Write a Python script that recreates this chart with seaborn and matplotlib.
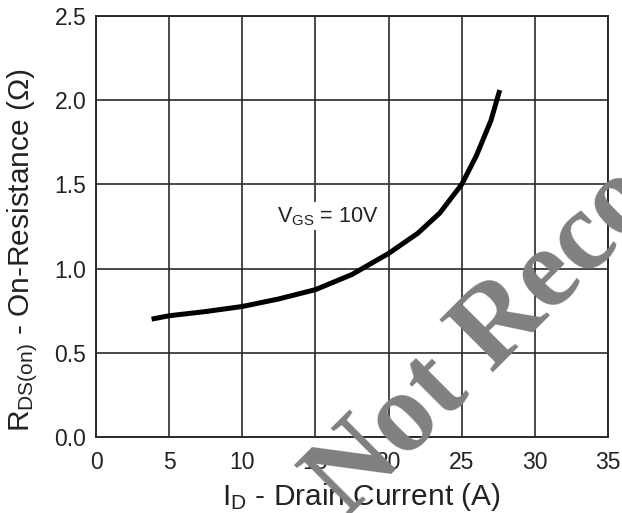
import matplotlib
matplotlib.use("Agg")
import matplotlib.pyplot as plt
import seaborn as sns
import pandas as pd

# Data
drain_current = [3.8, 5, 7.5, 10, 12.5, 15, 17.5, 20, 22, 23.5, 25, 26, 27, 27.6]
on_resistance = [0.70, 0.72, 0.745, 0.775, 0.82, 0.875, 0.965, 1.09, 1.21, 1.33, 1.50, 1.67, 1.88, 2.06]
x_ticks = [0, 5, 10, 15, 20, 25, 30, 35]
y_ticks = [0.0, 0.5, 1.0, 1.5, 2.0, 2.5]
y_tick_labels = ["0.0", "0.5", "1.0", "1.5", "2.0", "2.5"]

df = pd.DataFrame({"Id": drain_current, "Rds": on_resistance})

sns.set_theme(style="white")
plt.rcParams["font.family"] = ["Liberation Sans", "DejaVu Sans"]
plt.rcParams["mathtext.fontset"] = "custom"
plt.rcParams["mathtext.rm"] = "Liberation Sans"

fig = plt.figure(figsize=(6.22, 5.13), dpi=100)
ax = fig.add_axes([96/622, 76/513, 512/622, 421/513])

sns.lineplot(data=df, x="Id", y="Rds", ax=ax, color="black", linewidth=3.6,
             solid_capstyle="butt", zorder=3)

ax.set_xlim(0, 35)
ax.set_ylim(0, 2.5)
ax.set_xticks(x_ticks)
ax.set_yticks(y_ticks)
ax.set_yticklabels(y_tick_labels)
ax.grid(True, color="#2a2a2a", linewidth=1.2)
ax.set_axisbelow(True)
for s in ax.spines.values():
    s.set_color("#2a2a2a")
    s.set_linewidth(1.4)
ax.tick_params(axis="x", length=0, pad=10, labelsize=16.5, labelcolor="#222222")
ax.tick_params(axis="y", length=0, pad=7, labelsize=16.5, labelcolor="#222222")

ax.set_xlabel(r"$\mathregular{I_D}$ - Drain Current (A)", fontsize=21.5, color="#222222")
ax.set_ylabel(r"$\mathregular{R_{DS(on)}}$ - On-Resistance (Ω)", fontsize=21.5, color="#222222")
ax.xaxis.set_label_coords(0.518, -0.104)
ax.yaxis.set_label_coords(-0.109, 0.444)

ax.text(12.4, 1.31, r"$\mathregular{V_{GS}}$ = 10V", fontsize=15.5, color="#222222",
        ha="left", va="center", zorder=4,
        bbox=dict(facecolor="white", edgecolor="none", pad=2))

# Watermark
fig.text(346/622, -6/513, "Not Recommended", fontsize=82, family="Liberation Serif",
         weight="bold", color="#808080", rotation=45, rotation_mode="anchor",
         ha="left", va="baseline", zorder=10)

fig.savefig("out.png", dpi=100)
